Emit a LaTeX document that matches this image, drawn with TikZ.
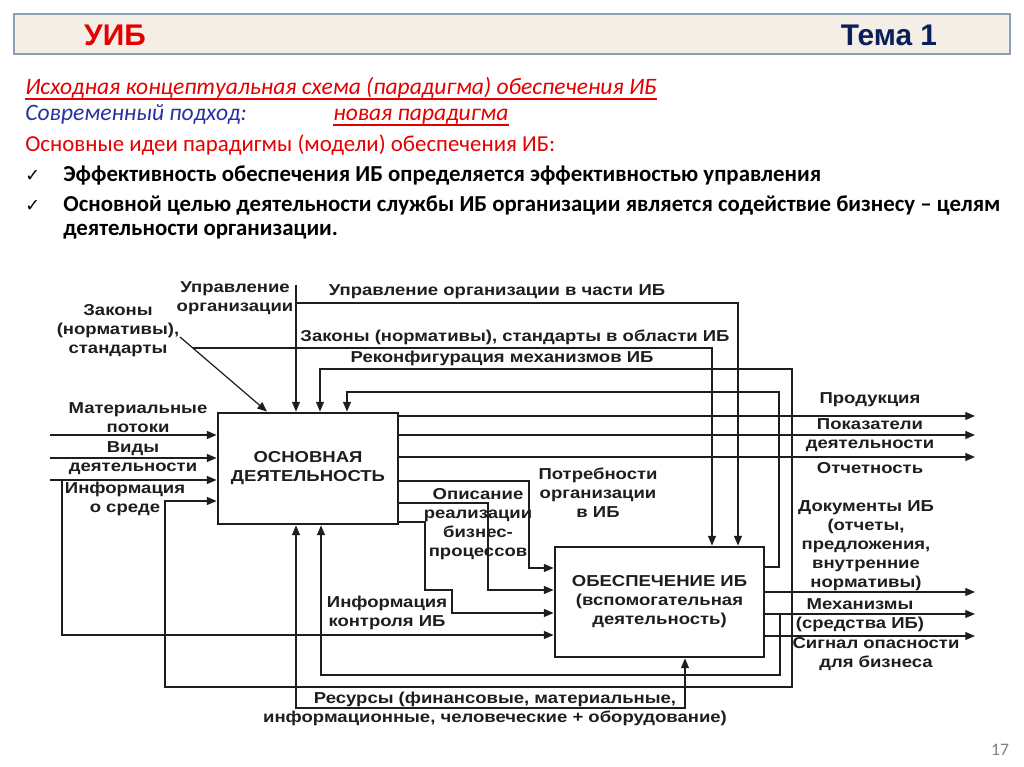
\documentclass[tikz,border=0pt]{standalone}
\usepackage{fontspec}
\setmainfont{Carlito}
\newfontfamily\diafont[FakeStretch=1.17]{Liberation Sans}
\newfontfamily\hdrfont{Liberation Sans}
\newfontfamily\symfont{DejaVu Sans}
\usepackage{xcolor}
\definecolor{uibred}{RGB}{228,0,0}
\definecolor{uibblue}{RGB}{40,50,160}
\definecolor{uibnavy}{RGB}{12,30,90}
\definecolor{hdrfill}{RGB}{243,239,230}
\definecolor{hdrline}{RGB}{140,160,185}
\definecolor{ink}{RGB}{30,30,30}
\usetikzlibrary{arrows.meta,positioning,calc}

\begin{document}
\begin{tikzpicture}[
  box/.style={draw=ink, line width=1.6pt, inner sep=0pt, align=center, font=\diafont\bfseries\fontsize{9}{10.8}\selectfont, text=ink},
  lbl/.style={inner sep=0pt, align=center, font=\diafont\bfseries\fontsize{9}{10.8}\selectfont, text=ink},
  flow/.style={line width=0.7pt, draw=ink},
  arr/.style={flow, -{Triangle[length=5.5pt,width=4.5pt]}},
  slide/.style={anchor=base west, inner sep=0pt, font=\fontsize{13}{14.2}\selectfont},
  uline/.style={line width=0.8pt}
]
  \fill[white] (0,0) rectangle (20.48,15.34);
  \useasboundingbox (0,0) rectangle (20.48,15.34);

  %--- Header ---
  \node[draw=hdrline, fill=hdrfill, line width=1.2pt, minimum width=19.92cm, minimum height=0.80cm] (header) at (10.24,14.66) {};
  \node[font=\hdrfont\bfseries\fontsize{17}{20}\selectfont, text=uibred] (uib) at (2.30,14.64) {УИБ};
  \node[font=\hdrfont\bfseries\fontsize{17}{20}\selectfont, text=uibnavy] (topic) at (17.78,14.64) {Тема 1};

  %--- Slide text ---
  \node[slide, font=\itshape\fontsize{13.4}{14.2}\selectfont, text=uibred] (title) at (0.50,13.44) {Исходная концептуальная схема (парадигма) обеспечения ИБ};
  \draw[uline, uibred] ([yshift=-2.2pt]title.base west) -- ([yshift=-2.2pt]title.base east);
  \node[slide, font=\itshape\fontsize{13.4}{14.2}\selectfont, text=uibblue] (approach) at (0.50,12.92) {Современный подход:};
  \node[slide, font=\itshape\fontsize{13.4}{14.2}\selectfont, text=uibred] (newpar) at (6.66,12.92) {новая парадигма};
  \draw[uline, uibred] ([yshift=-2.2pt]newpar.base west) -- ([yshift=-2.2pt]newpar.base east);
  \node[slide, text=uibred] (ideas) at (0.50,12.30) {Основные идеи парадигмы (модели) обеспечения ИБ:};
  \node[slide, font=\symfont\fontsize{10}{12}\selectfont] (tick1) at (0.50,11.70) {✓};
  \node[slide, font=\bfseries\fontsize{13}{14.2}\selectfont] (idea1) at (1.26,11.70) {Эффективность обеспечения ИБ определяется эффективностью управления};
  \node[slide, font=\symfont\fontsize{10}{12}\selectfont] (tick2) at (0.50,11.10) {✓};
  \node[slide, font=\bfseries\fontsize{13}{14.2}\selectfont] (idea2) at (1.26,11.10) {Основной целью деятельности службы ИБ организации является содействие бизнесу – целям};
  \node[slide, font=\bfseries\fontsize{13}{14.2}\selectfont] (idea2b) at (1.26,10.62) {деятельности организации.};

  %--- Activity boxes ---
  \node[box, minimum width=3.6cm, minimum height=2.22cm] (box1) at (6.16,5.97) {ОСНОВНАЯ\\ДЕЯТЕЛЬНОСТЬ};
  \node[box, minimum width=4.18cm, minimum height=2.2cm] (box2) at (13.19,3.30) {ОБЕСПЕЧЕНИЕ ИБ\\(вспомогательная\\деятельность)};

  % free ends and junctions
  \coordinate (inMat) at (1.00,6.64);
  \coordinate (inKind) at (1.00,6.18);
  \coordinate (inEnv) at (1.00,5.74);
  \coordinate (jEnv) at (1.24,5.74);
  \coordinate (ctrlTop) at (5.92,9.64);
  \coordinate (lawsTip) at (3.60,8.60);
  \coordinate (lawsStart) at (3.86,8.38);
  \coordinate (outProd) at (19.50,7.02);
  \coordinate (outKpi) at (19.50,6.64);
  \coordinate (outRep) at (19.50,6.20);
  \coordinate (outDoc) at (19.50,3.50);
  \coordinate (outMech) at (19.50,3.06);
  \coordinate (outSig) at (19.50,2.62);
  \coordinate (jDoc) at (15.84,3.50);
  \coordinate (jMech) at (15.60,3.06);
  \coordinate (resL) at (5.92,1.18);
  \coordinate (resR) at (13.70,1.18);

  % controls
  \draw[arr] (ctrlTop) -- (ctrlTop |- box1.north);
  \draw[arr] (ctrlTop |- 0,9.28) -| (box2.north -| 14.76,0);
  \draw[arr] (lawsTip) -- (box1.north -| 5.34,0);
  \draw[arr] (lawsStart) -| (box2.north -| 14.24,0);
  \draw[arr] (jDoc) |- (6.40,7.96) -- (box1.north -| 6.40,0);
  \draw[arr] (box2.east |- 0,4.00) -| (15.58,7.50) -| (box1.north -| 6.94,0);

  % inputs
  \draw[arr] (inMat) -- (box1.west |- inMat);
  \draw[arr] (inKind) -- (box1.west |- inKind);
  \draw[arr] (inEnv) -- (box1.west |- inEnv);
  \draw[arr] (jEnv) |- (box2.west |- 0,2.64);
  \draw[arr] (jDoc) |- (3.30,1.60) |- (box1.west |- 0,5.32);

  % main activity to support
  \draw[arr] (box1.east |- 0,5.72) -| (10.58,3.98) -- (box2.west |- 0,3.98);
  \draw[arr] (box1.east |- 0,5.28) -| (9.76,3.54) -- (box2.west |- 0,3.54);
  \draw[arr] (box1.east |- 0,4.90) -| (8.50,3.54) -| (9.04,3.08) -- (box2.west |- 0,3.08);

  % outputs
  \draw[arr] (box1.east |- outProd) -- (outProd);
  \draw[arr] (box1.east |- outKpi) -- (outKpi);
  \draw[arr] (box1.east |- outRep) -- (outRep);
  \draw[arr] (box2.east |- outDoc) -- (outDoc);
  \draw[arr] (box2.east |- outMech) -- (outMech);
  \draw[arr] (box2.east |- outSig) -- (outSig);

  % mechanisms
  \draw[arr] (jMech) |- (6.42,1.84) -- (box1.south -| 6.42,0);
  \draw[arr] (resR) -- (resL) -- (resL |- box1.south);
  \draw[arr] (resL) -- (resR) -- (resR |- box2.south);

  %--- Labels ---
  \node[lbl] (lblCtrl) at (4.70,9.38) {Управление\\организации};
  \node[lbl] (lblLaws) at (2.36,8.72) {Законы\\(нормативы),\\стандарты};
  \node[lbl] (lblCtrlIB) at (9.94,9.50) {Управление организации в части ИБ};
  \node[lbl] (lblLawsIB) at (10.30,8.60) {Законы (нормативы), стандарты в области ИБ};
  \node[lbl] (lblReconf) at (10.04,8.18) {Реконфигурация механизмов ИБ};
  \node[lbl] (lblMat) at (2.76,6.98) {Материальные\\потоки};
  \node[lbl] (lblKind) at (2.66,6.18) {Виды\\деятельности};
  \node[lbl] (lblEnv) at (2.50,5.36) {Информация\\о среде};
  \node[lbl] (lblDescr) at (9.56,4.86) {Описание\\реализации\\бизнес-\\процессов};
  \node[lbl] (lblNeeds) at (11.96,5.48) {Потребности\\организации\\в ИБ};
  \node[lbl] (lblCtrlInfo) at (7.74,3.08) {Информация\\контроля ИБ};
  \node[lbl] (lblProd) at (17.40,7.34) {Продукция};
  \node[lbl] (lblKpi) at (17.40,6.64) {Показатели\\деятельности};
  \node[lbl] (lblRep) at (17.40,5.98) {Отчетность};
  \node[lbl] (lblDoc) at (17.32,4.42) {Документы ИБ\\(отчеты,\\предложения,\\внутренние\\нормативы)};
  \node[lbl] (lblMech) at (17.20,3.03) {Механизмы\\(средства ИБ)};
  \node[lbl] (lblSig) at (17.52,2.25) {Сигнал опасности\\для бизнеса};
  \node[lbl] (lblRes) at (9.90,1.16) {Ресурсы (финансовые, материальные,\\информационные, человеческие + оборудование)};

  \node[text=gray, font=\fontsize{10}{12}\selectfont] (page) at (20.00,0.34) {17};
\end{tikzpicture}
\end{document}
